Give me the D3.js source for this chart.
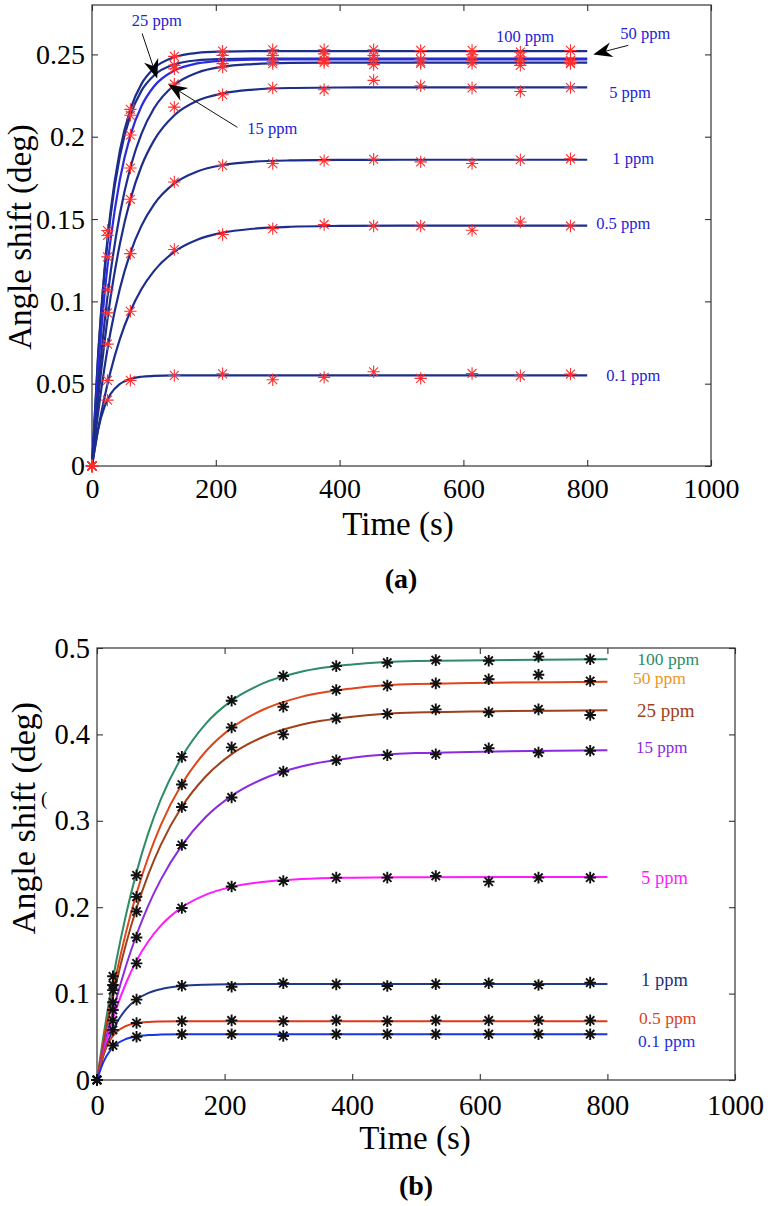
<!DOCTYPE html>
<html><head><meta charset="utf-8">
<script src="https://cdn.jsdelivr.net/npm/d3@7/dist/d3.min.js"></script>
<style>
body{margin:0;background:#fff}
svg{display:block}
text{font-family:"Liberation Serif","Times New Roman",Times,serif}
</style>
</head><body>
<svg id="chart" width="770" height="1206"></svg>
<script>
// ---------------- DATA ----------------
const concentrations = ["100 ppm","50 ppm","25 ppm","15 ppm","5 ppm","1 ppm","0.5 ppm","0.1 ppm"];
const sampleTimes = [0, 25, 62, 133, 211, 292, 375, 455, 531, 614, 692, 773];
const fitTimes = [0, 10, 20, 30, 45, 62, 80, 100, 133, 170, 211, 260, 320, 400, 500, 800];
const xTicks = [0, 200, 400, 600, 800, 1000];
const xTickLabels = ["0", "200", "400", "600", "800", "1000"];
const yTicksA = [0, 0.05, 0.1, 0.15, 0.2, 0.25];
const yTickLabelsA = ["0", "0.05", "0.1", "0.15", "0.2", "0.25"];
const yTicksB = [0, 0.1, 0.2, 0.3, 0.4, 0.5];
const yTickLabelsB = ["0", "0.1", "0.2", "0.3", "0.4", "0.5"];

// panel (a) measured points
const a100 = [0, 0.143, 0.2166, 0.2488, 0.252, 0.2528, 0.2528, 0.2528, 0.2524, 0.2524, 0.2514, 0.2524];
const a50  = [0, 0.140, 0.213, 0.2433, 0.2494, 0.2494, 0.2503, 0.2494, 0.247, 0.2498, 0.2484, 0.2464];
const a25  = [0, 0.127, 0.201, 0.2413, 0.2444, 0.2458, 0.2464, 0.2464, 0.2455, 0.2464, 0.2464, 0.245];
const a15  = [0, 0.107, 0.181, 0.232, 0.2423, 0.2444, 0.2451, 0.2438, 0.2445, 0.2444, 0.2433, 0.2444];
const a5   = [0, 0.093, 0.162, 0.218, 0.2255, 0.2296, 0.2285, 0.2342, 0.231, 0.2296, 0.2275, 0.2298];
const a1   = [0, 0.074, 0.129, 0.1725, 0.1826, 0.1837, 0.1855, 0.1863, 0.1847, 0.1837, 0.186, 0.1866];
const a05  = [0, 0.052, 0.094, 0.1315, 0.1406, 0.1442, 0.1467, 0.1458, 0.1458, 0.1432, 0.1482, 0.1458];
const a01  = [0, 0.040, 0.052, 0.055, 0.056, 0.0524, 0.0538, 0.0572, 0.0532, 0.0562, 0.0548, 0.0558];

// panel (a) fitted curves (read at fitTimes)
const fa100 = [0, 0.0686, 0.1184, 0.1547, 0.1915, 0.2167, 0.2321, 0.2415, 0.2483, 0.2509, 0.2517, 0.252, 0.252, 0.252, 0.252, 0.252];
const fa50  = [0, 0.0673, 0.1163, 0.1520, 0.1881, 0.2129, 0.2280, 0.2372, 0.2439, 0.2464, 0.2472, 0.2475, 0.2475, 0.2475, 0.2475, 0.2475];
const fa25  = [0, 0.0585, 0.1032, 0.1373, 0.1739, 0.2008, 0.2186, 0.2305, 0.2402, 0.2445, 0.2462, 0.2468, 0.247, 0.247, 0.247, 0.247];
const fa15  = [0, 0.0478, 0.0865, 0.1174, 0.1529, 0.1813, 0.2019, 0.2171, 0.2314, 0.2389, 0.2425, 0.2441, 0.2448, 0.245, 0.245, 0.245];
const fa5   = [0, 0.0409, 0.0745, 0.1024, 0.1348, 0.1619, 0.1822, 0.1976, 0.2130, 0.2218, 0.2263, 0.2286, 0.2296, 0.2299, 0.230, 0.230];
const fa1   = [0, 0.0326, 0.0593, 0.0815, 0.1077, 0.1295, 0.1460, 0.1588, 0.1716, 0.1789, 0.1828, 0.1848, 0.1856, 0.1859, 0.186, 0.186];
const fa05  = [0, 0.0225, 0.0413, 0.0574, 0.0771, 0.0940, 0.1075, 0.1184, 0.1301, 0.1374, 0.1417, 0.1441, 0.1453, 0.1458, 0.146, 0.146];
const fa01  = [0, 0.0225, 0.0358, 0.0437, 0.0498, 0.0529, 0.0542, 0.0547, 0.0550, 0.055, 0.055, 0.055, 0.055, 0.055, 0.055, 0.055];

// panel (b) measured points
const b100 = [0, 0.120, 0.237, 0.374, 0.439, 0.4676, 0.479, 0.483, 0.486, 0.4853, 0.490, 0.487];
const b50  = [0, 0.110, 0.212, 0.342, 0.408, 0.432, 0.4514, 0.4564, 0.459, 0.4638, 0.469, 0.4618];
const b25  = [0, 0.104, 0.195, 0.316, 0.385, 0.400, 0.4186, 0.4236, 0.429, 0.4256, 0.429, 0.4225];
const b15  = [0, 0.090, 0.165, 0.272, 0.327, 0.357, 0.370, 0.376, 0.377, 0.3839, 0.379, 0.381];
const b5   = [0, 0.081, 0.135, 0.199, 0.224, 0.2303, 0.2342, 0.2342, 0.2361, 0.2296, 0.2342, 0.2342];
const b1   = [0, 0.069, 0.093, 0.109, 0.108, 0.112, 0.1107, 0.1088, 0.111, 0.112, 0.110, 0.1127];
const b05  = [0, 0.058, 0.066, 0.068, 0.069, 0.068, 0.069, 0.068, 0.069, 0.069, 0.069, 0.069];
const b01  = [0, 0.040, 0.050, 0.053, 0.053, 0.051, 0.053, 0.053, 0.053, 0.053, 0.053, 0.053];

// panel (b) fitted curves (read at fitTimes)
const fb100 = [0, 0.0506, 0.0959, 0.1368, 0.1899, 0.2406, 0.2849, 0.3248, 0.3740, 0.4120, 0.4391, 0.4590, 0.4725, 0.4810, 0.4850, 0.487];
const fb50  = [0, 0.0447, 0.0853, 0.1217, 0.1697, 0.2162, 0.2572, 0.2950, 0.3425, 0.3799, 0.4075, 0.4285, 0.4434, 0.4532, 0.4582, 0.461];
const fb25  = [0, 0.0411, 0.0783, 0.1117, 0.1562, 0.1990, 0.2371, 0.2722, 0.3163, 0.3510, 0.3771, 0.3970, 0.4111, 0.4205, 0.4253, 0.428];
const fb15  = [0, 0.0340, 0.0653, 0.0932, 0.1310, 0.1681, 0.2013, 0.2319, 0.2716, 0.3041, 0.3289, 0.3484, 0.3628, 0.3729, 0.3784, 0.3818];
const fb5   = [0, 0.0313, 0.0585, 0.0820, 0.1114, 0.1382, 0.1600, 0.1786, 0.1998, 0.2143, 0.2235, 0.2293, 0.2326, 0.2342, 0.2348, 0.235];
const fb1   = [0, 0.0283, 0.0494, 0.0650, 0.0815, 0.0931, 0.1005, 0.1051, 0.1088, 0.1103, 0.1108, 0.111, 0.111, 0.111, 0.111, 0.111];
const fb05  = [0, 0.0290, 0.0456, 0.0551, 0.0624, 0.0658, 0.0672, 0.0677, 0.068, 0.068, 0.068, 0.068, 0.068, 0.068, 0.068, 0.068];
const fb01  = [0, 0.0208, 0.0335, 0.0412, 0.0474, 0.0506, 0.0520, 0.0526, 0.053, 0.053, 0.053, 0.053, 0.053, 0.053, 0.053, 0.053];

// ---------------- STYLE / LAYOUT ----------------
const FONT = '"Liberation Serif","Times New Roman",Times,serif';
const layoutA = {
  x0: 92, x1: 711, yTop: 5, yBot: 466, yMax: 0.28,
  yTicks: yTicksA, yTickLabels: yTickLabelsA,
  points: [a100, a50, a25, a15, a5, a1, a05, a01],
  fits: [fa100, fa50, fa25, fa15, fa5, fa1, fa05, fa01],
  lineColors: ["#1d2d8c","#1d2d8c","#2a2ae0","#1d2d8c","#1d2d8c","#1d2d8c","#1d2d8c","#1d2d8c"],
  lineWidth: 2.2,
  markerColor: "#ff2e2e", markerR: 6.2, markerW: 1.1,
  labelColors: Array(8).fill("#2323d6"),
  labelSizes: [16.5,16.5,16.5,16.5,16.5,16.5,16.5,16.5],
  labelPos: [[652.6,0.2609],[853.4,0.2627],[64.3,0.2706],[251,0.2051],[835.6,0.2269],[840.5,0.1869],[814.6,0.1475],[830.8,0.0552]],
  xTickBaseline: 32, tickFont: 28,
  yLabelX: 31, yLabelY: 237, yLabelSize: 33,
  xLabelY: 535, xLabelX: 398,
  caption: "(a)", capX: 401, capY: 588
};
const layoutB = {
  x0: 97, x1: 735, yTop: 648, yBot: 1080, yMax: 0.5,
  yTicks: yTicksB, yTickLabels: yTickLabelsB,
  points: [b100, b50, b25, b15, b5, b1, b05, b01],
  fits: [fb100, fb50, fb25, fb15, fb5, fb1, fb05, fb01],
  lineColors: ["#2e8b66","#e0451c","#a0401a","#8a2be2","#ff1aff","#1f3a8a","#d93a1a","#1a35e0"],
  lineWidth: 2,
  markerColor: "#111", markerR: 5.8, markerW: 1.9,
  labelColors: ["#2e8b66","#f0961e","#a0401a","#8a2be2","#ff1aff","#1f2f7a","#e0401e","#2030e0"],
  labelSizes: [17.5,17.5,19,17,18.5,18.5,17.5,17.5],
  labelPos: [[846.9,0.4873],[840,0.4653],[846.4,0.4271],[844.8,0.3843],[852.7,0.2338],[852.7,0.1157],[849.5,0.0718],[848,0.0451]],
  xTickBaseline: 35, tickFont: 28.5,
  yLabelX: 35, yLabelY: 818, yLabelSize: 34,
  xLabelY: 1149, xLabelX: 415,
  caption: "(b)", capX: 416, capY: 1195
};

const svg = d3.select("#chart");

function asteriskPath(cx, cy, r) {
  const d = r * 0.72;
  return `M${cx - r},${cy}H${cx + r}M${cx},${cy - r}V${cy + r}` +
         `M${cx - d},${cy - d}L${cx + d},${cy + d}M${cx - d},${cy + d}L${cx + d},${cy - d}`;
}

function drawPanel(L) {
  const g = svg.append("g");
  const x = d3.scaleLinear().domain([0, 1000]).range([L.x0, L.x1]);
  const y = d3.scaleLinear().domain([0, L.yMax]).range([L.yBot, L.yTop]);

  // axes (ticks inward, on all sides)
  const axB = d3.axisBottom(x).tickValues(xTicks).tickFormat((d, i) => xTickLabels[i])
      .tickSizeInner(-6).tickSizeOuter(0).tickPadding(L.xTickBaseline - 0.71 * L.tickFont);
  const axL = d3.axisLeft(y).tickValues(L.yTicks).tickFormat((d, i) => L.yTickLabels[i])
      .tickSizeInner(-6).tickSizeOuter(0).tickPadding(7);
  const axT = d3.axisTop(x).tickValues(xTicks).tickFormat("").tickSizeInner(-6).tickSizeOuter(0);
  const axR = d3.axisRight(y).tickValues(L.yTicks).tickFormat("").tickSizeInner(-6).tickSizeOuter(0);

  const styleAxis = sel => {
    sel.attr("font-family", FONT).attr("font-size", L.tickFont);
    sel.select(".domain").remove();
    sel.selectAll(".tick line").attr("stroke", "#333").attr("stroke-width", 1.1);
    sel.selectAll(".tick text").attr("fill", "#000").attr("font-family", FONT)
      .style("font-family", FONT).style("font-size", L.tickFont + "px");
  };
  g.append("g").attr("transform", `translate(0,${L.yBot})`).call(axB).call(styleAxis);
  g.append("g").attr("transform", `translate(${L.x0},0)`).call(axL).call(styleAxis);
  g.append("g").attr("transform", `translate(0,${L.yTop})`).call(axT).call(styleAxis);
  g.append("g").attr("transform", `translate(${L.x1},0)`).call(axR).call(styleAxis);

  g.append("rect").attr("x", L.x0).attr("y", L.yTop)
    .attr("width", L.x1 - L.x0).attr("height", L.yBot - L.yTop)
    .attr("fill", "none").attr("stroke", "#333").attr("stroke-width", 1.2);

  // fitted curves
  const line = d3.line().x(d => x(d[0])).y(d => y(d[1])).curve(d3.curveMonotoneX);
  L.fits.forEach((f, i) => {
    g.append("path").datum(fitTimes.map((t, k) => [t, f[k]]))
      .attr("d", line).attr("fill", "none")
      .attr("stroke", L.lineColors[i]).attr("stroke-width", L.lineWidth);
  });

  // measured points
  L.points.forEach(p => {
    g.append("g").selectAll("path").data(sampleTimes.map((t, k) => [t, p[k]]))
      .join("path")
      .attr("d", d => asteriskPath(x(d[0]), y(d[1]), L.markerR))
      .attr("fill", "none").attr("stroke", L.markerColor).attr("stroke-width", L.markerW);
  });

  // series labels
  concentrations.forEach((c, i) => {
    g.append("text").attr("x", x(L.labelPos[i][0])).attr("y", y(L.labelPos[i][1]))
      .attr("dominant-baseline", "central").attr("font-family", FONT)
      .attr("fill", L.labelColors[i]).style("font-size", L.labelSizes[i] + "px")
      .text(c);
  });

  // axis titles
  g.append("text").attr("transform", `translate(${L.yLabelX},${L.yLabelY}) rotate(-90)`)
    .attr("text-anchor", "middle").attr("font-family", FONT).style("font-size", L.yLabelSize + "px").text("Angle shift (deg)");
  g.append("text").attr("x", L.xLabelX).attr("y", L.xLabelY).attr("font-family", FONT)
    .attr("text-anchor", "middle").style("font-size", "33px").text("Time (s)");
  g.append("text").attr("x", L.capX).attr("y", L.capY).attr("font-family", FONT)
    .attr("text-anchor", "middle").style("font-size", "28px").style("font-weight", "bold").text(L.caption);
  return {g, x, y};
}

function arrow(P, from, to) {
  const x1 = P.x(from[0]), y1 = P.y(from[1]), x2 = P.x(to[0]), y2 = P.y(to[1]);
  const dx = x2 - x1, dy = y2 - y1, len = Math.hypot(dx, dy);
  const ux = dx / len, uy = dy / len, nx = -uy, ny = ux;
  const hl = 19, hw = 7.5, ind = 6;
  const bx = x2 - ux * hl, by = y2 - uy * hl;
  const mx = x2 - ux * (hl - ind), my = y2 - uy * (hl - ind);
  P.g.append("line").attr("x1", x1).attr("y1", y1).attr("x2", mx).attr("y2", my)
    .attr("stroke", "#111").attr("stroke-width", 1);
  P.g.append("path")
    .attr("d", `M${x2},${y2}L${bx + nx * hw},${by + ny * hw}L${mx},${my}L${bx - nx * hw},${by - ny * hw}Z`)
    .attr("fill", "#000");
}

const PA = drawPanel(layoutA);
const PB = drawPanel(layoutB);

// annotation arrows in panel (a)
arrow(PA, [81, 0.2627], [105.3, 0.2354]);   // 25 ppm
arrow(PA, [234.8, 0.2057], [123.1, 0.2318]); // 15 ppm
arrow(PA, [866.4, 0.2555], [809.7, 0.2500]); // 50 ppm

// stray parenthesis near the y label of panel (b)
svg.append("text").attr("x", 41).attr("y", 805).attr("font-family", FONT).style("font-size", "19px").text("(");
</script>
</body></html>
